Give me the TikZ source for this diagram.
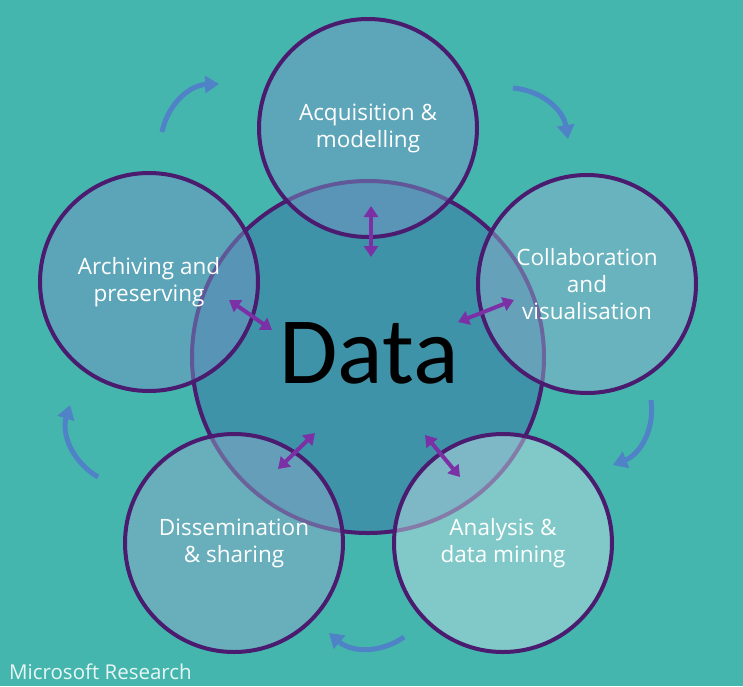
\documentclass[tikz,border=0pt]{standalone}
\usepackage{fontspec}
\setmainfont{Open Sans}
\newfontfamily\datafont{Carlito}
\usetikzlibrary{arrows.meta}
\definecolor{bgteal}{RGB}{69,182,174}
\definecolor{coreblue}{RGB}{62,147,168}
\definecolor{ringpurple}{RGB}{74,27,110}
\definecolor{flowblue}{RGB}{79,130,198}
\definecolor{linkpurple}{RGB}{123,48,166}
\definecolor{fillA}{RGB}{118,150,196}
\definecolor{fillB}{RGB}{140,178,205}
\definecolor{fillC}{RGB}{190,220,228}
\definecolor{fillD}{RGB}{140,170,200}
\definecolor{fillE}{RGB}{115,150,196}
\tikzset{
  phase/.style={circle, draw=ringpurple, line width=4pt, minimum size=218pt, inner sep=0pt,
    fill opacity=0.5, text opacity=1, text=white, align=center, font=\fontsize{22.5}{27}\selectfont},
  core/.style={circle, draw=ringpurple, line width=4pt, minimum size=352pt, inner sep=0pt, fill=coreblue},
  flow/.style={draw=flowblue, line width=5pt, -{Triangle[length=14pt,width=17pt]}, bend left=38},
  link/.style={draw=linkpurple, line width=4pt, {Triangle[length=11pt,width=14pt]}-{Triangle[length=11pt,width=14pt]}}
}
\begin{document}
\begin{tikzpicture}[x=1pt,y=-1pt]
\fill[bgteal] (0,0) rectangle (743,686);
\useasboundingbox (0,0) rectangle (743,686);
\node[core] (data) at (368,357) {};
\node (datatext) at (369,353) {\datafont\fontsize{95}{100}\selectfont Data};
\node[phase, fill=fillA] (acq) at (368,128) {Acquisition \&\\modelling};
\node[phase, fill=fillB] (col) at (587,284) {Collaboration\\and\\visualisation};
\node[phase, fill=fillC] (ana) at (503,543) {Analysis \&\\data mining};
\node[phase, fill=fillD] (dis) at (234,543) {Dissemination\\\& sharing};
\node[phase, fill=fillE] (arc) at (149,282) {Archiving and\\preserving};
% blue flow arrows
\coordinate (f1a) at (162,132); \coordinate (f1b) at (219,84);
\coordinate (f2a) at (513,88);  \coordinate (f2b) at (568,139);
\coordinate (f3a) at (651,400); \coordinate (f3b) at (613,465);
\coordinate (f4a) at (404,637); \coordinate (f4b) at (329,633);
\coordinate (f5a) at (98,477);  \coordinate (f5b) at (70,405);
\draw[flow] (f1a) to (f1b);
\draw[flow] (f2a) to (f2b);
\draw[flow] (f3a) to (f3b);
\draw[flow] (f4a) to (f4b);
\draw[flow] (f5a) to (f5b);
% purple links
\coordinate (l1a) at (371,206); \coordinate (l1b) at (371,257);
\coordinate (l2a) at (458,322); \coordinate (l2b) at (514,300);
\coordinate (l3a) at (229,300); \coordinate (l3b) at (272,330);
\coordinate (l4a) at (278,469); \coordinate (l4b) at (315,433);
\coordinate (l5a) at (425,435); \coordinate (l5b) at (460,477);
\draw[link] (l1a) -- (l1b);
\draw[link] (l2a) -- (l2b);
\draw[link] (l3a) -- (l3b);
\draw[link] (l4a) -- (l4b);
\draw[link] (l5a) -- (l5b);
\node[anchor=base west, text=white!88!bgteal, font=\fontsize{20.5}{22}\selectfont, inner sep=0pt] (ms) at (9,679) {Microsoft Research};
\end{tikzpicture}
\end{document}
